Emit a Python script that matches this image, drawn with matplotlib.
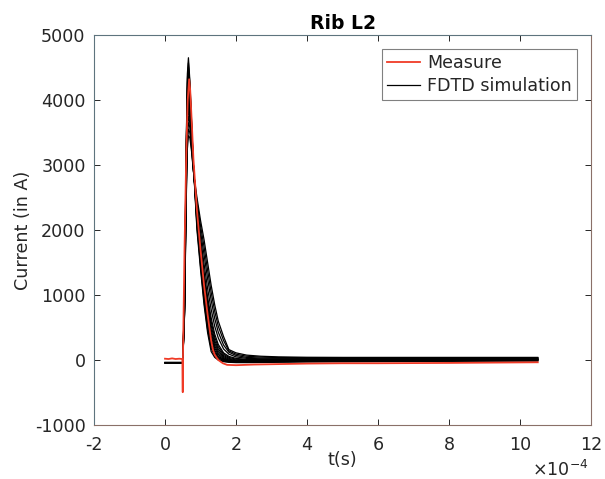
import matplotlib
matplotlib.use("Agg")
import matplotlib.pyplot as plt
import numpy as np

plt.rcParams['font.family'] = ['DejaVu Sans']
plt.rcParams['axes.unicode_minus'] = False

# ---- data (time in units of 1e-4 s, current in A) ----
t_meas = [0, 0.1, 0.2, 0.3, 0.4, 0.49, 0.50, 0.505, 0.55, 0.60, 0.64, 0.68, 0.71,
          0.75, 0.80, 0.90, 1.00, 1.10, 1.20, 1.30, 1.35, 1.40, 1.50, 1.63, 1.75,
          2.0, 2.5, 3.0, 4.0, 5.0, 6.0, 8.0, 10.5]
i_meas = [20, 15, 25, 15, 20, 15, -495, 0, 1700, 3200, 4000, 4320, 4150,
          3700, 3100, 2300, 1700, 1150, 700, 300, 160, 80, 0, -50, -75,
          -80, -70, -65, -55, -50, -50, -45, -35]

t_sim = [0, 0.5, 0.55, 0.60, 0.63, 0.66, 0.70, 0.75, 0.80, 0.90, 1.00, 1.10, 1.20,
         1.30, 1.40, 1.50, 1.65, 1.80, 2.00, 2.30, 2.70, 3.20, 4.00, 5.00, 6.00, 8.00, 10.50]
sim_1 = [-40, -40, 1000, 3400, 4400, 4650, 4300, 3650, 3000, 2000, 1400, 850, 420,
         130, 40, 0, -25, -35, -40, -40, -38, -35, -30, -28, -25, -20, -15]
sim_2 = [-40, -40, 970, 3350, 4320, 4570, 4250, 3620, 3000, 2050, 1450, 900, 470,
         180, 60, 10, -20, -30, -35, -35, -32, -28, -24, -20, -18, -15, -10]
sim_3 = [-40, -40, 950, 3300, 4250, 4500, 4200, 3600, 3000, 2100, 1500, 950, 520,
         220, 90, 30, -10, -25, -30, -30, -28, -22, -18, -14, -10, -8, -5]
sim_4 = [-40, -40, 920, 3250, 4170, 4420, 4150, 3570, 3000, 2120, 1550, 1000, 570,
         270, 120, 45, 0, -20, -27, -27, -25, -20, -14, -10, -6, -3, 0]
sim_5 = [-40, -40, 900, 3200, 4100, 4350, 4100, 3550, 3000, 2150, 1600, 1050, 620,
         320, 150, 60, 10, -15, -25, -25, -22, -18, -10, -5, 0, 3, 5]
sim_6 = [-40, -40, 870, 3150, 4020, 4270, 4040, 3520, 3000, 2180, 1630, 1100, 680,
         370, 185, 85, 22, -8, -20, -22, -18, -14, -7, -2, 2, 4, 6]
sim_7 = [-40, -40, 850, 3100, 3950, 4200, 3980, 3500, 3000, 2200, 1650, 1150, 730,
         420, 220, 110, 35, 0, -15, -18, -15, -10, -5, 0, 3, 5, 8]
sim_8 = [-40, -40, 820, 3020, 3860, 4100, 3910, 3460, 2990, 2230, 1690, 1200, 790,
         470, 260, 140, 52, 12, -8, -12, -10, -5, 0, 3, 6, 8, 10]
sim_9 = [-40, -40, 800, 2950, 3780, 4000, 3850, 3420, 2980, 2250, 1720, 1250, 850,
         530, 300, 170, 70, 25, 0, -5, -5, 0, 3, 5, 8, 10, 12]
sim_10 = [-40, -40, 780, 2870, 3700, 3920, 3790, 3380, 2960, 2280, 1760, 1300, 910,
          590, 350, 205, 90, 40, 12, 2, 2, 5, 8, 10, 12, 14, 15]
sim_11 = [-40, -40, 760, 2800, 3620, 3850, 3730, 3350, 2950, 2300, 1800, 1350, 970,
          650, 400, 240, 110, 55, 25, 10, 8, 10, 14, 16, 18, 18, 20]
sim_12 = [-40, -40, 740, 2720, 3520, 3750, 3650, 3310, 2930, 2340, 1890, 1480, 1100,
          780, 520, 340, 170, 90, 48, 25, 18, 18, 20, 22, 24, 24, 25]
sim_13 = [-40, -40, 720, 2650, 3430, 3650, 3580, 3280, 2920, 2380, 1980, 1620, 1250,
          920, 640, 430, 230, 120, 70, 40, 30, 28, 28, 30, 30, 30, 30]
sim_14 = [-40, -40, 700, 2570, 3340, 3550, 3500, 3240, 2910, 2440, 2070, 1740, 1380,
          1040, 750, 520, 300, 140, 90, 58, 45, 38, 35, 35, 35, 35, 35]
sim_15 = [-40, -40, 680, 2500, 3250, 3450, 3420, 3200, 2900, 2500, 2150, 1850, 1500,
          1150, 850, 600, 360, 160, 110, 75, 58, 48, 42, 40, 40, 40, 40]
sim_curves = [sim_1, sim_2, sim_3, sim_4, sim_5, sim_6, sim_7, sim_8,
              sim_9, sim_10, sim_11, sim_12, sim_13, sim_14, sim_15]

x_ticks = [-2, 0, 2, 4, 6, 8, 10, 12]
y_ticks = [-1000, 0, 1000, 2000, 3000, 4000, 5000]

text_col = '#262626'
fs = 12.6

fig = plt.figure(figsize=(6.05, 4.79), dpi=100)
ax = fig.add_axes([94/605, 1 - 425/479, (591-94)/605, (425-35)/479])

for k, c in enumerate(sim_curves):
    ax.plot(t_sim, c, color='black', lw=0.9,
            label='FDTD simulation' if k == 0 else None, zorder=2)
ax.plot(t_meas, i_meas, color='#f03a26', lw=1.3, label='Measure', zorder=3)

ax.set_xlim(x_ticks[0], x_ticks[-1])
ax.set_ylim(y_ticks[0], y_ticks[-1])
ax.set_xticks(x_ticks)
ax.set_yticks(y_ticks)

ax.tick_params(direction='in', length=4, width=0.7, top=True, right=True,
               labelsize=fs, colors=text_col)
ax.tick_params(axis='x', pad=8)
ax.tick_params(axis='y', pad=6)

for side in ['left', 'top']:
    ax.spines[side].set_color('#5e747e')
for side in ['bottom', 'right']:
    ax.spines[side].set_color('#8a7068')
for s in ax.spines.values():
    s.set_linewidth(0.8)

ax.set_xlabel('t(s)', fontsize=fs, color=text_col, labelpad=-2)
ax.set_ylabel('Current (in A)', fontsize=fs, color=text_col, labelpad=2)
ax.set_title('Rib L2', fontsize=13.5, fontweight='bold', color='black', pad=4)

fig.text(588/605, 1 - 476/479, r'$\times$10$^{\mathsf{-4}}$', ha='right',
         va='baseline', fontsize=fs, color=text_col)

handles, labels = ax.get_legend_handles_labels()
order = [labels.index('Measure'), labels.index('FDTD simulation')]
leg = ax.legend([handles[i] for i in order], [labels[i] for i in order],
                loc='upper right', fontsize=fs, frameon=True, fancybox=False,
                framealpha=1, edgecolor='#808080', borderaxespad=0.8,
                handlelength=1.9, handletextpad=0.4, labelspacing=0.25,
                borderpad=0.3)
leg.get_frame().set_linewidth(0.8)
for t in leg.get_texts():
    t.set_color(text_col)

fig.savefig('out.png', dpi=100)
